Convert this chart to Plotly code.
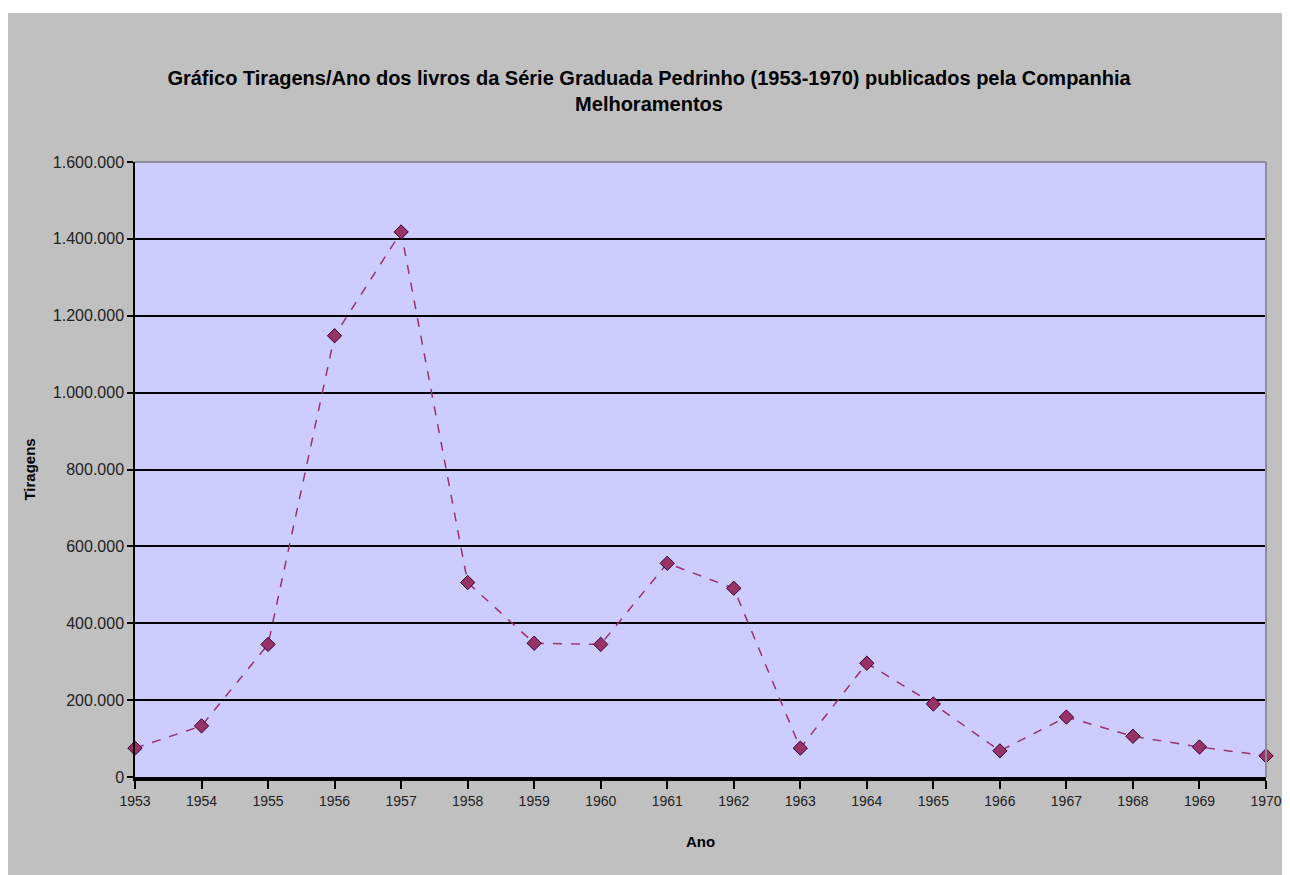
import plotly.graph_objects as go

years = [1953, 1954, 1955, 1956, 1957, 1958, 1959, 1960, 1961, 1962,
         1963, 1964, 1965, 1966, 1967, 1968, 1969, 1970]
tiragens = [75000, 133000, 345000, 1148000, 1418000, 506000, 348000, 345000, 556000, 491000,
            75000, 296000, 190000, 68000, 156000, 106000, 78000, 55000]
y_ticks = [0, 200000, 400000, 600000, 800000, 1000000, 1200000, 1400000, 1600000]

title_text = ("<b>Gráfico Tiragens/Ano dos livros da Série Graduada Pedrinho (1953-1970) publicados pela Companhia"
              "<br>Melhoramentos</b>")

FONT = "Liberation Sans, Arial, sans-serif"

fig = go.Figure()
fig.add_trace(go.Scatter(
    x=years, y=tiragens, mode="lines+markers",
    line=dict(color="#993366", width=1.5, dash="dash"),
    marker=dict(symbol="diamond", size=11, color="#993366",
                line=dict(color="#330033", width=1)),
    cliponaxis=False, showlegend=False,
))

# figure is placed by the page at (8, 8)
W, H = 1282, 867
L, R, T, B = 127, 24, 154, 98
PW, PH = W - L - R, H - T - B

fig.update_layout(
    width=W, height=H,
    margin=dict(l=L, r=R, t=T, b=B, pad=0, autoexpand=False),
    paper_bgcolor="#C0C0C0",
    plot_bgcolor="#CCCCFF",
    separators=",.",
    title=dict(text=title_text, x=0.5, xanchor="center", y=1 - 77 / H, yanchor="middle",
               font=dict(family=FONT, size=20, color="#000000")),
    font=dict(family=FONT, color="#222222"),
    xaxis=dict(
        range=[1953, 1970], tickvals=years, ticktext=[str(y) for y in years],
        showgrid=False, zeroline=False, automargin=False,
        showline=True, linecolor="#000000", linewidth=4,
        ticks="outside", ticklen=8, tickwidth=2, tickcolor="#000000",
        tickfont=dict(size=14, family=FONT, color="#222222"),
        title=dict(text="<b>Ano</b>", standoff=30,
                   font=dict(size=15, family=FONT, color="#000000")),
    ),
    yaxis=dict(
        range=[0, 1600000], tickvals=y_ticks, tickformat=",d",
        showgrid=True, gridcolor="#000000", gridwidth=1.5, zeroline=False, automargin=False,
        showline=True, linecolor="#000000", linewidth=1.5,
        ticks="outside", ticklen=6, tickwidth=1.5, tickcolor="#000000",
        tickfont=dict(size=16, family=FONT, color="#222222"),
        title=dict(text="<b>Tiragens</b>", standoff=14,
                   font=dict(size=15, family=FONT, color="#000000")),
    ),
    shapes=[
        # thin white strip at the top of the grey area
        dict(type="rect", xref="paper", yref="paper",
             x0=-L / PW, x1=1 + R / PW, y0=1 + (T - 5) / PH, y1=1 + (T + 2) / PH,
             fillcolor="#FFFFFF", line=dict(width=0), layer="below"),
        # plot area border (top and right)
        dict(type="line", xref="paper", yref="paper", x0=0, x1=1, y0=1, y1=1,
             line=dict(color="#8C8C9A", width=2), layer="above"),
        dict(type="line", xref="paper", yref="paper", x0=1, x1=1, y0=0, y1=1,
             line=dict(color="#8C8C9A", width=2), layer="above"),
    ],
)

fig.write_html("out.html")
